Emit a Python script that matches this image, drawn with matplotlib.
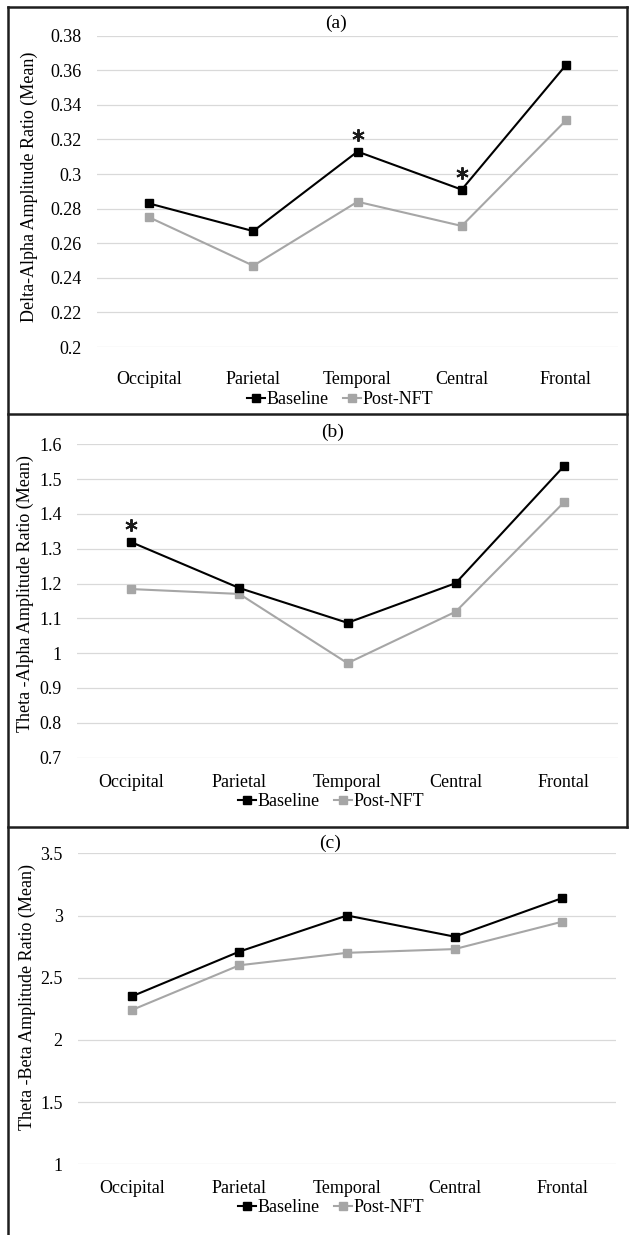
import matplotlib
matplotlib.use("Agg")
import matplotlib.pyplot as plt
from matplotlib.lines import Line2D
from matplotlib.transforms import offset_copy

plt.rcParams['font.family'] = ['Liberation Serif', 'DejaVu Serif']

regions = ["Occipital", "Parietal", "Temporal", "Central", "Frontal"]

delta_alpha_baseline = [0.283, 0.267, 0.313, 0.291, 0.363]
delta_alpha_post = [0.275, 0.247, 0.284, 0.270, 0.331]

theta_alpha_baseline = [1.319, 1.187, 1.087, 1.201, 1.537]
theta_alpha_post = [1.184, 1.170, 0.971, 1.119, 1.433]

theta_beta_baseline = [2.35, 2.71, 3.00, 2.83, 3.14]
theta_beta_post = [2.24, 2.60, 2.70, 2.73, 2.95]

yticks_a = [0.2, 0.22, 0.24, 0.26, 0.28, 0.3, 0.32, 0.34, 0.36, 0.38]
ytick_labels_a = ["0.2", "0.22", "0.24", "0.26", "0.28", "0.3", "0.32", "0.34", "0.36", "0.38"]
yticks_b = [0.7, 0.8, 0.9, 1.0, 1.1, 1.2, 1.3, 1.4, 1.5, 1.6]
ytick_labels_b = ["0.7", "0.8", "0.9", "1", "1.1", "1.2", "1.3", "1.4", "1.5", "1.6"]
yticks_c = [1, 1.5, 2, 2.5, 3, 3.5]
ytick_labels_c = ["1", "1.5", "2", "2.5", "3", "3.5"]

star_a = ["Temporal", "Central"]
star_b = ["Occipital"]
star_c = []

W, H = 629, 1235
fig = plt.figure(figsize=(W / 100, H / 100), dpi=100)

BASE_C = "#000000"
POST_C = "#a6a6a6"
GRID_C = "#d9d9d9"
FS = 13
LW = 1.5
MS = 5.5


def px_axes(x0, x1, y0, y1):
    return fig.add_axes([x0 / W, 1 - y1 / H, (x1 - x0) / W, (y1 - y0) / H])


panels = [
    dict(box=(97, 618, 35.7, 347), base=delta_alpha_baseline, post=delta_alpha_post,
         yt=yticks_a, ytl=ytick_labels_a, ylabel="Delta-Alpha Amplitude Ratio (Mean)",
         title="(a)", title_xy=(336, 23), leg_xy=(340, 400), stars=star_a,
         ylab_xy=(29, 187), xpad=17.5),
    dict(box=(77, 618, 444.3, 757.5), base=theta_alpha_baseline, post=theta_alpha_post,
         yt=yticks_b, ytl=ytick_labels_b, ylabel="Theta -Alpha Amplitude Ratio (Mean)",
         title="(b)", title_xy=(333, 432), leg_xy=(331, 802), stars=star_b,
         ylab_xy=(25, 594), xpad=12),
    dict(box=(78, 616, 853.3, 1164.3), base=theta_beta_baseline, post=theta_beta_post,
         yt=yticks_c, ytl=ytick_labels_c, ylabel="Theta -Beta Amplitude Ratio (Mean)",
         title="(c)", title_xy=(330, 843), leg_xy=(331, 1208), stars=star_c,
         ylab_xy=(27.5, 997), xpad=11.5),
]

x = list(range(len(regions)))
for p in panels:
    ax = px_axes(*p["box"])
    ax.set_xlim(-0.5, len(regions) - 0.5)
    ax.set_ylim(p["yt"][0], p["yt"][-1])
    ax.set_yticks(p["yt"])
    ax.set_yticklabels(p["ytl"])
    ax.set_xticks(x)
    ax.set_xticklabels(regions)
    ax.tick_params(axis="both", length=0, labelsize=FS, colors="#000000")
    ax.tick_params(axis="y", pad=11)
    ax.tick_params(axis="x", pad=p["xpad"])
    for s in ax.spines.values():
        s.set_visible(False)
    ax.grid(axis="y", color=GRID_C, linewidth=0.9)
    ax.set_axisbelow(True)
    ax.plot(x, p["post"], color=POST_C, lw=LW, marker="s", ms=MS, clip_on=False, zorder=3)
    ax.plot(x, p["base"], color=BASE_C, lw=LW, marker="s", ms=MS, clip_on=False, zorder=4)
    star_tr = offset_copy(ax.transData, fig=fig, x=0, y=12, units="points")
    for r in p["stars"]:
        i = regions.index(r)
        ax.plot([i], [p["base"][i]], transform=star_tr, marker=(6, 2, 0), ms=9,
                mew=1.4, color="#1a1a1a", linestyle="none", clip_on=False, zorder=5)
    fig.text(p["ylab_xy"][0] / W, 1 - p["ylab_xy"][1] / H, p["ylabel"], rotation=90,
             ha="center", va="center", fontsize=FS)
    fig.text(p["title_xy"][0] / W, 1 - p["title_xy"][1] / H, p["title"], ha="center",
             va="center", fontsize=FS + 1)
    handles = [Line2D([], [], color=BASE_C, lw=LW, marker="s", ms=MS),
               Line2D([], [], color=POST_C, lw=LW, marker="s", ms=MS)]
    fig.legend(handles, ["Baseline", "Post-NFT"], loc="center",
               bbox_to_anchor=(p["leg_xy"][0] / W, 1 - p["leg_xy"][1] / H), ncol=2,
               frameon=False, fontsize=FS, handlelength=1.0, handletextpad=0.1,
               columnspacing=0.8, borderaxespad=0, borderpad=0)

# panel borders
border_kw = dict(color="#1e1e1e", lw=1.8, transform=fig.transFigure)
xl, xr = 8 / W, 627 / W
for y in [7.3, 414.3, 827.3]:
    fig.add_artist(Line2D([xl, xr], [1 - y / H, 1 - y / H], **border_kw))
fig.add_artist(Line2D([xl, xl], [1 - 7.3 / H, 0], **border_kw))
fig.add_artist(Line2D([xr, xr], [1 - 7.3 / H, 1 - 827.3 / H], **border_kw))

fig.savefig("out.png", dpi=100)
